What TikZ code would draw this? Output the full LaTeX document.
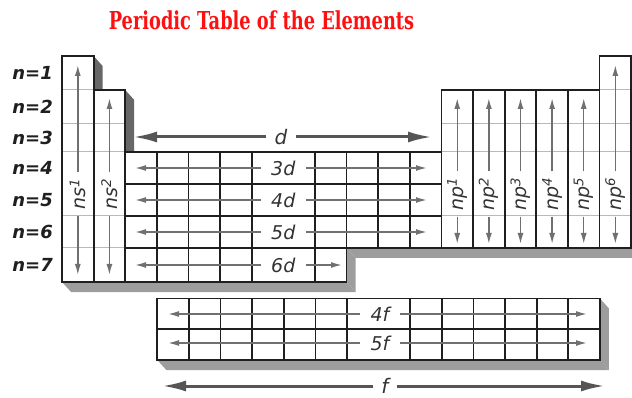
\documentclass[tikz,border=0pt]{standalone}
\usepackage{fontspec}
\setsansfont{DejaVu Sans}
\newfontfamily\titlefont[FakeStretch=0.72]{DejaVu Serif}
\usetikzlibrary{arrows.meta,positioning}

\definecolor{titlered}{HTML}{FF1010}
\definecolor{pinkline}{HTML}{F2A0A0}
\definecolor{shadedark}{HTML}{676767}
\definecolor{shadelight}{HTML}{9D9D9D}
\definecolor{arrowgray}{HTML}{707070}
\definecolor{bigarrowgray}{HTML}{555555}

\begin{document}
\begin{tikzpicture}[
    x=1pt, y=-1pt,
    >=Latex,
    gridline/.style={draw=black!88, line width=1.8pt},
    redline/.style={draw=pinkline, line width=1pt},
    facedark/.style={fill=shadedark},
    facelight/.style={fill=shadelight},
    thinarrow/.style={draw=arrowgray, line width=1.5pt, -{Latex[length=11pt, width=6pt]}},
    bigarrow/.style={draw=bigarrowgray, line width=3pt, -{Latex[length=24pt, width=11pt]}},
    shelllabel/.style={anchor=east, inner sep=0pt, text=black!88, font=\sffamily\bfseries\itshape\fontsize{18}{18}\selectfont},
    sublabel/.style={inner xsep=10pt, inner ysep=0pt, text=black!80, font=\sffamily\itshape\fontsize{19}{19}\selectfont},
    collabel/.style={sublabel, rotate=90, inner xsep=6pt},
    blocklabel/.style={inner xsep=8pt, inner ysep=0pt, text=black!80, font=\sffamily\itshape\fontsize{20}{20}\selectfont}
]
    \useasboundingbox (0,0) rectangle (632,398);

    \node[anchor=base, text=titlered, font=\titlefont\bfseries\fontsize{24.7}{25}\selectfont] (title) at (261.5,30) {Periodic Table of the Elements};

    % side faces of the blocks
    \fill[facedark] (93.62,56) -- (102.62,66) -- (102.62,292) -- (93.62,282) -- cycle;
    \fill[facedark] (125.24,90) -- (134.24,100) -- (134.24,292) -- (125.24,282) -- cycle;
    \fill[facelight] (62,282) -- (346.58,282) -- (355.58,292) -- (71,292) -- cycle;
    \fill[facelight] (346.58,248) -- (355.58,258) -- (355.58,292) -- (346.58,282) -- cycle;
    \fill[facelight] (346.58,248) -- (631.16,248) -- (640.16,258) -- (355.58,258) -- cycle;
    \fill[facelight] (631.16,56) -- (640.16,66) -- (640.16,258) -- (631.16,248) -- cycle;
    \fill[facelight] (599.98,298.5) -- (608.98,308.5) -- (608.98,370) -- (599.98,360) -- cycle;
    \fill[facelight] (157.3,360) -- (599.98,360) -- (608.98,370) -- (166.3,370) -- cycle;

    % main table
    \fill[white] (62,56) -- (93.62,56) -- (93.62,90) -- (125.24,90) -- (125.24,152) -- (441.44,152) -- (441.44,90) -- (599.54,90) -- (599.54,56) -- (631.16,56) -- (631.16,248) -- (346.58,248) -- (346.58,282) -- (62,282) -- cycle;

    \draw[redline] (62,90) -- (93.62,90);
    \foreach \yy in {124,152,216,248} {
        \draw[redline] (62,\yy) -- (125.24,\yy);
    }
    \draw[redline] (599.54,90) -- (631.16,90);
    \foreach \yy in {124,152,216} {
        \draw[redline] (441.44,\yy) -- (631.16,\yy);
    }

    \draw[gridline] (62,56) -- (93.62,56) -- (93.62,90) -- (125.24,90) -- (125.24,152) -- (441.44,152) -- (441.44,90) -- (599.54,90) -- (599.54,56) -- (631.16,56) -- (631.16,248) -- (346.58,248) -- (346.58,282) -- (62,282) -- cycle;
    \draw[gridline] (93.62,90) -- (93.62,282);
    \draw[gridline] (125.24,152) -- (125.24,282);
    \draw[gridline] (125.24,184) -- (441.44,184);
    \draw[gridline] (125.24,216) -- (441.44,216);
    \draw[gridline] (125.24,248) -- (346.58,248);
    \foreach \i in {1,2,3,4,6} {
        \draw[gridline] ({125.24+\i*31.62},152) -- ({125.24+\i*31.62},282);
    }
    \foreach \i in {7,8,9,10} {
        \draw[gridline] ({125.24+\i*31.62},152) -- ({125.24+\i*31.62},248);
    }
    \foreach \i in {1,...,5} {
        \draw[gridline] ({441.44+\i*31.62},90) -- ({441.44+\i*31.62},248);
    }

    % f block
    \filldraw[gridline, fill=white] (157.3,298.5) rectangle (599.98,360);
    \draw[gridline] (157.3,329) -- (599.98,329);
    \foreach \i in {1,...,6,8,9,...,13} {
        \draw[gridline] ({157.3+\i*31.62},298.5) -- ({157.3+\i*31.62},360);
    }

    % shell labels
    \foreach \n/\yc in {1/73,2/107,3/138,4/168,5/200,6/232,7/265} {
        \node[shelllabel] (n\n) at (53,\yc) {n=\n};
    }

    % s block
    \foreach \k/\xc/\yt in {1/77.81/65,2/109.43/98} {
        \node[collabel] (ns\k) at (\xc,194) {ns\textsuperscript{\k}};
        \coordinate (ns\k N) at (\xc,\yt);
        \coordinate (ns\k S) at (\xc,275);
        \draw[thinarrow] (ns\k) -- (ns\k N);
        \draw[thinarrow] (ns\k) -- (ns\k S);
    }

    % p block
    \foreach \k/\yt in {1/98,2/98,3/98,4/98,5/98,6/65} {
        \pgfmathsetmacro\xc{441.44+(\k-0.5)*31.62}
        \node[collabel] (np\k) at (\xc,194) {np\textsuperscript{\k}};
        \coordinate (np\k N) at (\xc,\yt);
        \coordinate (np\k S) at (\xc,244);
        \draw[thinarrow] (np\k) -- (np\k N);
        \draw[thinarrow] (np\k) -- (np\k S);
    }

    % d rows
    \foreach \lab/\yc/\xe in {3/168/427,4/200/427,5/232/427,6/265/342} {
        \node[sublabel] (row\lab d) at (283.25,\yc) {\lab d};
        \coordinate (row\lab dW) at (135,\yc);
        \coordinate (row\lab dE) at (\xe,\yc);
        \draw[thinarrow] (row\lab d) -- (row\lab dW);
        \draw[thinarrow] (row\lab d) -- (row\lab dE);
    }

    % f rows
    \foreach \lab/\yc in {4/314,5/343} {
        \node[sublabel] (row\lab f) at (380,\yc) {\lab f};
        \coordinate (row\lab fW) at (168,\yc);
        \coordinate (row\lab fE) at (587,\yc);
        \draw[thinarrow] (row\lab f) -- (row\lab fW);
        \draw[thinarrow] (row\lab f) -- (row\lab fE);
    }

    % block arrows
    \node[blocklabel] (dlab) at (281,137) {d};
    \coordinate (dW) at (133,137);
    \coordinate (dE) at (432,137);
    \draw[bigarrow] (dlab) -- (dW);
    \draw[bigarrow] (dlab) -- (dE);

    \node[blocklabel] (flab) at (385,386) {f};
    \coordinate (fW) at (162,386);
    \coordinate (fE) at (605,386);
    \draw[bigarrow] (flab) -- (fW);
    \draw[bigarrow] (flab) -- (fE);

\end{tikzpicture}
\end{document}
